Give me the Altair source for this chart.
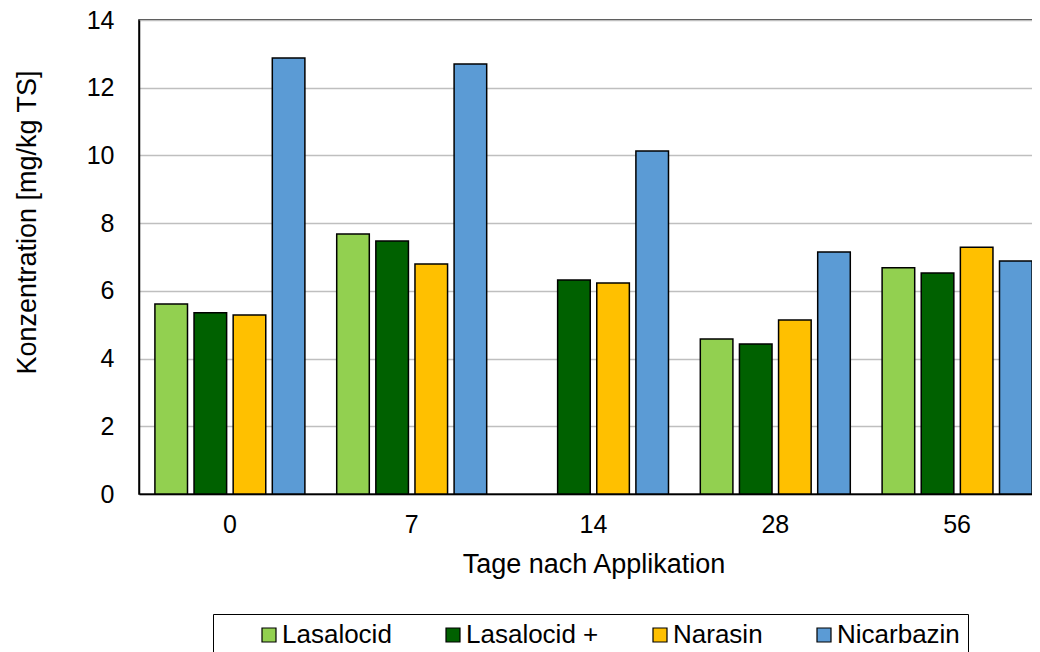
import altair as alt
import pandas as pd

days = ["0", "7", "14", "28", "56"]
series = ["Lasalocid", "Lasalocid +", "Narasin", "Nicarbazin"]
colors = ["#92D050", "#006100", "#FFC000", "#5B9BD5"]

lasalocid = [5.61, 7.68, None, 4.58, 6.68]
lasalocid_plus = [5.35, 7.47, 6.32, 4.43, 6.53]
narasin = [5.29, 6.79, 6.23, 5.14, 7.29]
nicarbazin = [12.88, 12.70, 10.13, 7.15, 6.88]

rows = []
for name, vals in zip(series, [lasalocid, lasalocid_plus, narasin, nicarbazin]):
    for d, v in zip(days, vals):
        if v is not None:
            rows.append({"Tag": d, "Substanz": name, "Wert": v})
df = pd.DataFrame(rows)

FONT = "Liberation Sans"

chart = alt.Chart(df).mark_bar(stroke="#000000", strokeWidth=1.5).encode(
    x=alt.X("Tag:N", sort=days,
            scale=alt.Scale(paddingInner=0.175, paddingOuter=0.0875),
            axis=alt.Axis(title="Tage nach Applikation", labelAngle=0, ticks=False,
                          labelPadding=18, titlePadding=14, domainColor="#000000",
                          domainWidth=1.5)),
    xOffset=alt.XOffset("Substanz:N", sort=series,
                        scale=alt.Scale(domain=series, paddingInner=0.167, paddingOuter=0)),
    y=alt.Y("Wert:Q", scale=alt.Scale(domain=[0, 14], nice=False),
            axis=alt.Axis(title="Konzentration [mg/kg TS]", values=[0, 2, 4, 6, 8, 10, 12, 14],
                          ticks=False, labelPadding=25, gridColor="#BFBFBF", gridWidth=1.5,
                          domainColor="#000000", domainWidth=1.5,
                          titleX=-104, titleY=202, titleBaseline="alphabetic")),
    color=alt.Color("Substanz:N", sort=series,
                    scale=alt.Scale(domain=series, range=colors),
                    legend=alt.Legend(title=None, orient="none", direction="horizontal",
                                      legendX=74, legendY=594, padding=8,
                                      strokeColor="#000000", symbolType="square",
                                      symbolSize=196, symbolStrokeColor="#000000",
                                      symbolStrokeWidth=1.2, symbolOffset=35,
                                      labelOffset=0, columnPadding=13,
                                      labelFontSize=26, labelFont=FONT, labelColor="#000000",
                                      columns=4)),
).properties(
    width=909, height=474,
    autosize=alt.AutoSizeParams(type="none"),
    padding={"left": 131, "top": 12, "right": -16, "bottom": 158},
).configure_view(
    stroke="#000000", strokeWidth=1.5
).configure_axis(
    labelFont=FONT, titleFont=FONT, labelFontSize=25, titleFontSize=27,
    labelColor="#000000", titleColor="#000000", titleFontWeight="normal"
)

chart.save("out.html", embed_options={"renderer": "svg", "actions": False})
